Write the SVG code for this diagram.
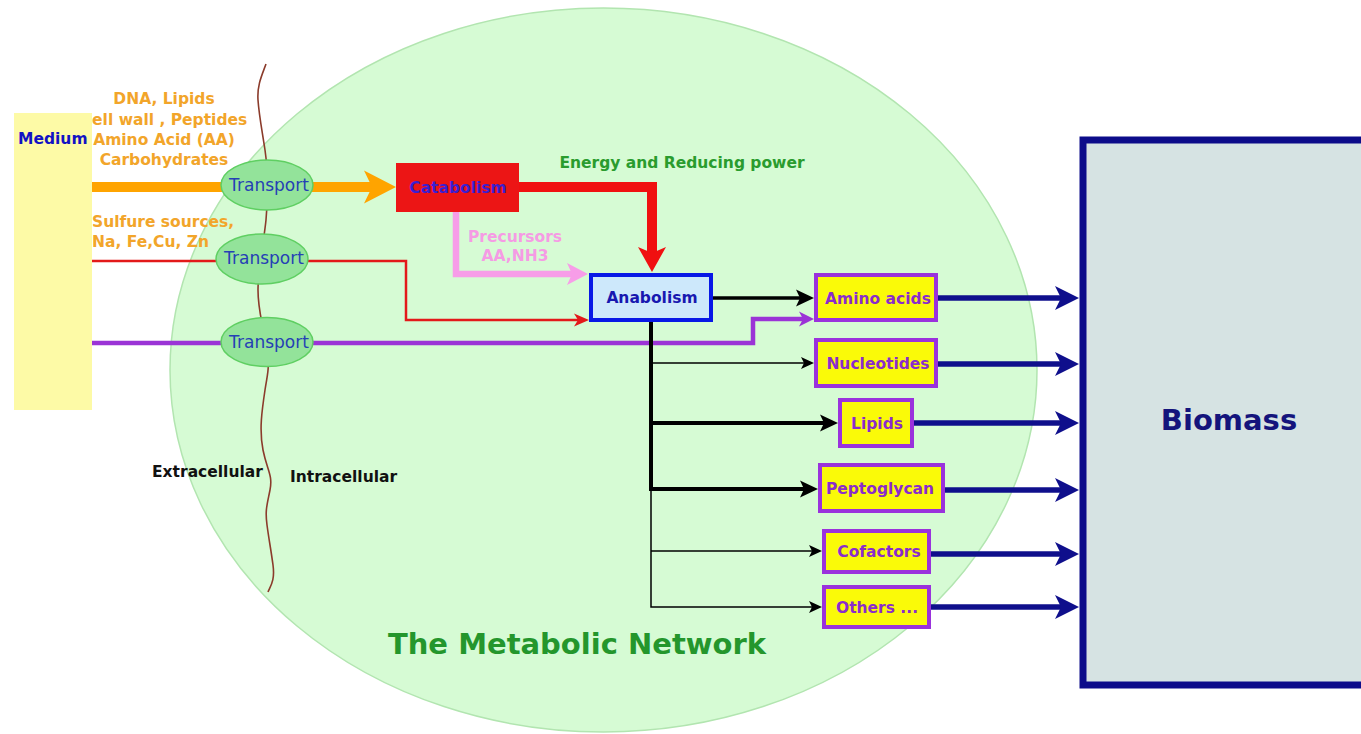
<svg xmlns="http://www.w3.org/2000/svg" width="1361" height="734" viewBox="0 0 1361 734">
  <style>
    text { font-family: "DejaVu Sans", "Liberation Sans", sans-serif; font-weight: bold; font-size: 15.5px; }
    text.big { font-size: 29px; }
    .feed { fill: #f2a52a; text-anchor: middle; }
    .feed-l { fill: #f2a52a; }
    .transport ellipse { fill: #93e39a; stroke: #5fcf62; stroke-width: 1.5; }
    .transport text { fill: #2540b5; font-weight: normal; font-size: 17px; text-anchor: middle; }
    .product rect { fill: #fafa08; stroke: #9a32dc; stroke-width: 4; }
    .product text { fill: #8a2ccc; text-anchor: middle; }
    .side { fill: #111111; }
    .navy { fill: none; stroke: #0f0f8c; stroke-width: 5.5; marker-end: url(#m-navy); }
    .blk { fill: none; stroke: #000000; }
  </style>
  <defs>
    <marker id="m-navy" markerUnits="userSpaceOnUse" markerWidth="24" markerHeight="24" refX="6" refY="12" orient="auto" overflow="visible">
      <path d="M0,0 L24,12 L0,24 L6,12 Z" fill="#0f0f8c"/>
    </marker>
    <marker id="m-orange" markerUnits="userSpaceOnUse" markerWidth="32" markerHeight="33" refX="8" refY="16.5" orient="auto" overflow="visible">
      <path d="M0,0 L32,16.5 L0,33 L8,16.5 Z" fill="#ffa400"/>
    </marker>
    <marker id="m-red-big" markerUnits="userSpaceOnUse" markerWidth="25" markerHeight="28" refX="6" refY="14" orient="auto" overflow="visible">
      <path d="M0,0 L25,14 L0,28 L6,14 Z" fill="#f01010"/>
    </marker>
    <marker id="m-pink" markerUnits="userSpaceOnUse" markerWidth="21" markerHeight="22" refX="5" refY="11" orient="auto" overflow="visible">
      <path d="M0,0 L21,11 L0,22 L5,11 Z" fill="#f79de8"/>
    </marker>
    <marker id="m-red" markerUnits="userSpaceOnUse" markerWidth="15" markerHeight="13" refX="4" refY="6.5" orient="auto" overflow="visible">
      <path d="M0,0 L15,6.5 L0,13 L4,6.5 Z" fill="#e3191a"/>
    </marker>
    <marker id="m-purple" markerUnits="userSpaceOnUse" markerWidth="15" markerHeight="15" refX="4" refY="7.5" orient="auto" overflow="visible">
      <path d="M0,0 L15,7.5 L0,15 L4,7.5 Z" fill="#9b34d6"/>
    </marker>
    <marker id="m-black" markerUnits="userSpaceOnUse" markerWidth="18" markerHeight="17" refX="4" refY="8.5" orient="auto" overflow="visible">
      <path d="M0,0 L18,8.5 L0,17 L4,8.5 Z" fill="#000000"/>
    </marker>
    <marker id="m-black-s" markerUnits="userSpaceOnUse" markerWidth="13" markerHeight="12" refX="3" refY="6" orient="auto" overflow="visible">
      <path d="M0,0 L13,6 L0,12 L3,6 Z" fill="#000000"/>
    </marker>
  </defs>

  <rect width="1361" height="734" fill="#ffffff"/>

  <!-- cell: the metabolic network -->
  <g id="cell">
    <ellipse cx="603.5" cy="370" rx="433.5" ry="362" fill="#d6fbd4" stroke="#b2e5b0" stroke-width="1.5"/>
    <text class="big" x="577" y="654" fill="#24962c" text-anchor="middle">The Metabolic Network</text>
  </g>

  <!-- membrane -->
  <g id="membrane">
    <path d="M266,64 C262,75 257,85 258,100 S262,130 265,150 S268,200 266,220 S258,270 258,290 S262,320 266,345 S268,370 265,390 S259,430 263,450 S273,475 270,490 S265,510 267,525 S271,550 273,565 S271,585 268,592" fill="none" stroke="#8b3b2b" stroke-width="1.6"/>
    <text class="side" x="152" y="477">Extracellular</text>
    <text class="side" x="290" y="482">Intracellular</text>
  </g>

  <!-- nutrient labels -->
  <g id="feed-labels">
    <text class="feed" x="164" y="104">DNA, Lipids</text>
    <text class="feed" x="164" y="125">Cell wall , Peptides</text>
    <text class="feed" x="164" y="145">Amino Acid (AA)</text>
    <text class="feed" x="164" y="165">Carbohydrates</text>
    <text class="feed-l" x="92" y="227">Sulfure sources,</text>
    <text class="feed-l" x="92" y="247">Na, Fe,Cu, Zn</text>
  </g>

  <!-- medium -->
  <g id="medium">
    <rect x="14" y="113" width="78" height="297" fill="#fdfaa6"/>
    <text x="18" y="144" fill="#1212c4">Medium</text>
  </g>

  <!-- connectors -->
  <g id="connectors">
    <path d="M92,187 H372" fill="none" stroke="#ffa400" stroke-width="10" marker-end="url(#m-orange)"/>
    <path d="M92,261 H406 V320 H578" fill="none" stroke="#e3191a" stroke-width="2.5" marker-end="url(#m-red)"/>
    <path d="M92,343 H753 V319 H803" fill="none" stroke="#9b34d6" stroke-width="4.5" marker-end="url(#m-purple)"/>
    <path d="M519,187 H652 V253" fill="none" stroke="#f01010" stroke-width="10" marker-end="url(#m-red-big)"/>
    <path d="M456,212 V274 H572" fill="none" stroke="#f79de8" stroke-width="6.5" marker-end="url(#m-pink)"/>

    <path class="blk" d="M651,320 V490" stroke-width="4"/>
    <path class="blk" d="M651,488 V607 H812" stroke-width="1.5" marker-end="url(#m-black-s)"/>
    <path class="blk" d="M712,298 H800" stroke-width="3.5" marker-end="url(#m-black)"/>
    <path class="blk" d="M651,363 H804" stroke-width="1.5" marker-end="url(#m-black-s)"/>
    <path class="blk" d="M651,423 H824" stroke-width="4" marker-end="url(#m-black)"/>
    <path class="blk" d="M649,489 H804" stroke-width="4" marker-end="url(#m-black)"/>
    <path class="blk" d="M651,551 H812" stroke-width="1.5" marker-end="url(#m-black-s)"/>

    <path class="navy" d="M938,298 H1061"/>
    <path class="navy" d="M938,364 H1061"/>
    <path class="navy" d="M914,423 H1061"/>
    <path class="navy" d="M945,490 H1061"/>
    <path class="navy" d="M931,554 H1061"/>
    <path class="navy" d="M931,607 H1061"/>
  </g>

  <!-- transporters -->
  <g id="transport-1" class="transport">
    <ellipse cx="267" cy="185" rx="46" ry="25"/>
    <text x="269" y="191">Transport</text>
  </g>
  <g id="transport-2" class="transport">
    <ellipse cx="262" cy="259" rx="46" ry="25"/>
    <text x="264" y="264">Transport</text>
  </g>
  <g id="transport-3" class="transport">
    <ellipse cx="267" cy="342" rx="46" ry="24.5"/>
    <text x="269" y="348">Transport</text>
  </g>

  <!-- central metabolism -->
  <g id="catabolism">
    <rect x="396" y="163" width="123" height="49" fill="#ec1515"/>
    <text x="458" y="193" fill="#3b1fd0" text-anchor="middle">Catabolism</text>
  </g>
  <g id="energy-label">
    <text x="682" y="168" fill="#2a9c2e" text-anchor="middle">Energy and Reducing power</text>
  </g>
  <g id="precursors-label">
    <text x="515" y="242" fill="#f59be4" text-anchor="middle">Precursors</text>
    <text x="515" y="261" fill="#f59be4" text-anchor="middle">AA,NH3</text>
  </g>
  <g id="anabolism">
    <rect x="591" y="275" width="120" height="45" fill="#cde8fb" stroke="#0818e6" stroke-width="4"/>
    <text x="652" y="303" fill="#1818b0" text-anchor="middle">Anabolism</text>
  </g>

  <!-- building blocks -->
  <g id="amino-acids" class="product">
    <rect x="816" y="275" width="120" height="45"/>
    <text x="878" y="304">Amino acids</text>
  </g>
  <g id="nucleotides" class="product">
    <rect x="816" y="340" width="120" height="46"/>
    <text x="878" y="369">Nucleotides</text>
  </g>
  <g id="lipids" class="product">
    <rect x="840" y="400" width="72" height="46"/>
    <text x="877" y="429">Lipids</text>
  </g>
  <g id="peptoglycan" class="product">
    <rect x="820" y="465" width="123" height="46"/>
    <text x="880" y="494">Peptoglycan</text>
  </g>
  <g id="cofactors" class="product">
    <rect x="824" y="531" width="105" height="41"/>
    <text x="879" y="557">Cofactors</text>
  </g>
  <g id="others" class="product">
    <rect x="824" y="587" width="105" height="40"/>
    <text x="877" y="613">Others ...</text>
  </g>

  <!-- biomass -->
  <g id="biomass">
    <rect x="1083" y="140" width="300" height="545" fill="#d6e3e3" stroke="#0c0c8a" stroke-width="7"/>
    <text class="big" x="1229" y="430" fill="#14147c" text-anchor="middle">Biomass</text>
  </g>
</svg>
